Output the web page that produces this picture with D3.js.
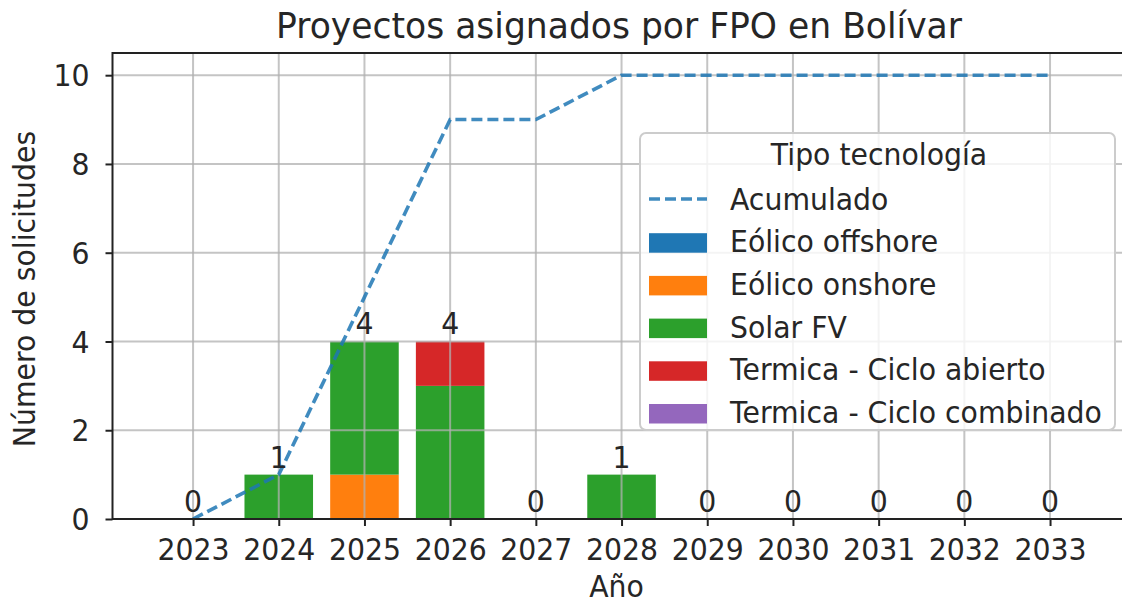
<!DOCTYPE html>
<html><head><meta charset="utf-8">
<script src="https://cdn.jsdelivr.net/npm/d3@7"></script>
<style>
html,body{margin:0;padding:0;background:#fff;}
svg{display:block;font-family:"DejaVu Sans",sans-serif;}
</style></head>
<body>
<svg id="chart" width="1122" height="603"></svg>
<script>
const years = [2023, 2024, 2025, 2026, 2027, 2028, 2029, 2030, 2031, 2032, 2033];
const techNames = ["Eólico offshore", "Eólico onshore", "Solar FV", "Termica - Ciclo abierto", "Termica - Ciclo combinado"];
const techColors = ["#1f77b4", "#ff7f0e", "#2ca02c", "#d62728", "#9467bd"];
const eolicoOffshore = [0, 0, 0, 0, 0, 0, 0, 0, 0, 0, 0];
const eolicoOnshore  = [0, 0, 1, 0, 0, 0, 0, 0, 0, 0, 0];
const solarFV        = [0, 1, 3, 3, 0, 1, 0, 0, 0, 0, 0];
const termicaAbierto = [0, 0, 0, 1, 0, 0, 0, 0, 0, 0, 0];
const termicaCombinado = [0, 0, 0, 0, 0, 0, 0, 0, 0, 0, 0];
const acumulado = [0, 1, 5, 9, 9, 10, 10, 10, 10, 10, 10];
const yTicks = [0, 2, 4, 6, 8, 10];
const titleText = "Proyectos asignados por FPO en Bolívar";
const xLabel = "Año";
const yLabel = "Número de solicitudes";
const legendTitle = "Tipo tecnología";
const lineName = "Acumulado";

const series = [eolicoOffshore, eolicoOnshore, solarFV, termicaAbierto, termicaCombinado];
const SX = 0.96;
const FS = 29.5;

const svg = d3.select("#chart");
const pL = 112.5, pT = 53, pB = 519, pR = 1130.6;

const x = d3.scaleLinear().domain([2022.06, 2033.94]).range([pL, pR]);
const y = d3.scaleLinear().domain([0, 10.5]).range([pB, pT]);

const rows = years.map((yr, i) => {
  const r = {year: yr};
  techNames.forEach((t, k) => r[t] = series[k][i]);
  return r;
});
const stack = d3.stack().keys(techNames)(rows);

function stxt(g, tx, ty, s, size, anchor) {
  return g.append("text")
    .attr("transform", `translate(${tx},${ty}) scale(${SX},1)`)
    .attr("font-size", size).attr("text-anchor", anchor).attr("fill", "#262626")
    .text(s);
}

// bars
const bw = 0.8;
const barW = x(2023 + bw) - x(2023);
stack.forEach((layer, k) => {
  svg.append("g").selectAll("rect").data(layer).join("rect")
    .attr("x", d => x(d.data.year) - barW / 2)
    .attr("width", barW)
    .attr("y", d => y(d[1]))
    .attr("height", d => y(d[0]) - y(d[1]))
    .attr("fill", techColors[k]);
});

// grid
const grid = svg.append("g").attr("stroke", "#b0b0b0").attr("stroke-opacity", 0.75).attr("stroke-width", 2);
grid.selectAll("line.v").data(years).join("line").attr("class", "v")
  .attr("x1", d => x(d)).attr("x2", d => x(d)).attr("y1", pT).attr("y2", pB);
grid.selectAll("line.h").data(yTicks).join("line").attr("class", "h")
  .attr("x1", pL).attr("x2", pR).attr("y1", d => y(d)).attr("y2", d => y(d));

// line
const lineGen = d3.line().x((d, i) => x(years[i])).y(d => y(d));
svg.append("path").datum(acumulado)
  .attr("d", lineGen).attr("fill", "none")
  .attr("stroke", "#1f77b4").attr("stroke-opacity", 0.85)
  .attr("stroke-width", 3.6).attr("stroke-dasharray", "11,5");

// spines
svg.append("rect").attr("x", pL).attr("y", pT).attr("width", pR - pL).attr("height", pB - pT)
  .attr("fill", "none").attr("stroke", "#222").attr("stroke-width", 2);

// axes
const xAxis = svg.append("g").attr("transform", `translate(0,${pB})`)
  .call(d3.axisBottom(x).tickValues(years).tickFormat(d3.format("d")).tickSize(7).tickPadding(0));
xAxis.select(".domain").remove();
xAxis.selectAll("line").attr("stroke", "#222").attr("stroke-width", 2);
xAxis.selectAll("text").attr("font-size", FS).attr("font-family", "DejaVu Sans")
  .attr("fill", "#262626").attr("y", 41).attr("dy", 0)
  .attr("transform", `scale(${SX},1)`);

const yAxis = svg.append("g").attr("transform", `translate(${pL},0)`)
  .call(d3.axisLeft(y).tickValues(yTicks).tickFormat(d3.format("d")).tickSize(7));
yAxis.select(".domain").remove();
yAxis.selectAll("line").attr("stroke", "#222").attr("stroke-width", 2);
yAxis.selectAll("text").attr("font-size", FS).attr("font-family", "DejaVu Sans")
  .attr("fill", "#262626").attr("x", -23 / SX).attr("dy", "0.36em")
  .attr("transform", `scale(${SX},1)`);

// bar totals
const totals = rows.map((r, i) => d3.sum(series, s => s[i]));
totals.forEach((t, i) => {
  stxt(svg, x(years[i]), y(t) - 7, String(t), FS, "middle");
});

// title and labels
stxt(svg, 619, 38, titleText, 36, "middle");
stxt(svg, (pL + pR) / 2 - 5, 597, xLabel, FS, "middle");
svg.append("text")
  .attr("transform", `translate(35,${(pT + pB) / 2 + 3}) rotate(-90) scale(${SX},1)`)
  .attr("font-size", FS).attr("text-anchor", "middle").attr("fill", "#262626")
  .text(yLabel);

// legend
const lg = svg.append("g");
lg.append("rect").attr("x", 640).attr("y", 133).attr("width", 475).attr("height", 297)
  .attr("rx", 6).attr("fill", "#fff").attr("fill-opacity", 0.82)
  .attr("stroke", "#cccccc").attr("stroke-width", 2);
stxt(lg, 879, 165, legendTitle, FS, "middle");
const baseY = 209.5, step = 42.7;
lg.append("line").attr("x1", 649).attr("x2", 707).attr("y1", baseY - 10.5).attr("y2", baseY - 10.5)
  .attr("stroke", "#1f77b4").attr("stroke-opacity", 0.85).attr("stroke-width", 3.6).attr("stroke-dasharray", "11,5");
stxt(lg, 730, baseY, lineName, FS, "start");
techNames.forEach((t, k) => {
  const by = baseY + (k + 1) * step;
  lg.append("rect").attr("x", 649).attr("y", by - 19).attr("width", 58).attr("height", 19.5)
    .attr("fill", techColors[k]);
  stxt(lg, 730, by, t, FS, "start");
});
</script>
</body></html>
